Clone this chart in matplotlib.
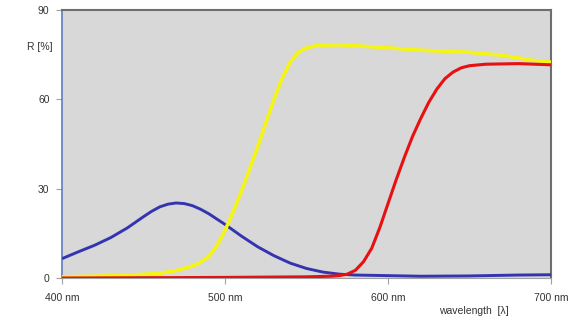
import matplotlib
matplotlib.use("Agg")
import matplotlib.pyplot as plt

plt.rcParams['font.family'] = ['Liberation Sans', 'DejaVu Sans']

# Reflectance spectra (wavelength in nm, R in %)
wl_blue = [400, 410, 420, 430, 440, 450, 455, 460, 465, 470, 475, 480, 485,
           490, 500, 510, 520, 530, 540, 550, 560, 570, 580, 600, 620, 650,
           680, 700]
r_blue = [6.5, 8.8, 11.0, 13.6, 16.8, 20.6, 22.4, 23.9, 24.8, 25.2, 25.0, 24.3,
          23.1, 21.6, 18.0, 14.1, 10.5, 7.5, 5.0, 3.2, 2.0, 1.3, 1.0, 0.8,
          0.6, 0.7, 1.0, 1.1]

wl_yellow = [400, 420, 440, 460, 470, 480, 485, 490, 495, 500, 505, 510, 515,
             520, 525, 530, 535, 540, 545, 550, 555, 560, 570, 580, 600, 620,
             650, 670, 690, 700]
r_yellow = [0.4, 0.6, 0.9, 1.6, 2.5, 4.0, 5.3, 7.2, 10.8, 16.0, 22.2, 29.0,
            36.5, 44.0, 52.0, 60.0, 67.0, 72.5, 75.8, 77.3, 77.9, 78.2, 78.3,
            78.0, 77.3, 76.5, 75.8, 74.8, 73.0, 72.5]

wl_red = [400, 450, 500, 550, 565, 570, 575, 580, 585, 590, 595, 600, 605,
          610, 615, 620, 625, 630, 635, 640, 645, 650, 660, 680, 700]
r_red = [0.0, 0.1, 0.2, 0.4, 0.6, 0.8, 1.3, 2.6, 5.5, 10.0, 17.0, 25.0, 33.0,
         40.5, 47.5, 53.5, 59.0, 63.5, 67.0, 69.2, 70.6, 71.3, 71.8, 72.0, 71.6]

x_ticks = [400, 500, 600, 700]
x_tick_labels = ["400 nm", "500 nm", "600 nm", "700 nm"]
y_ticks = [0, 30, 60, 90]

fig = plt.figure(figsize=(5.79, 3.22), dpi=100)
fig.patch.set_facecolor('white')
ax = fig.add_axes([0.1071, 0.1366, 0.8446, 0.8323])
ax.set_facecolor('#d8d8d8')

line_kw = dict(solid_capstyle='butt', solid_joinstyle='round')
ax.plot(wl_blue, r_blue, color='#3434b0', lw=2.1, zorder=3, **line_kw)
ax.plot(wl_yellow, r_yellow, color='#f4f418', lw=2.6, zorder=4, **line_kw)
ax.plot(wl_red, r_red, color='#e81010', lw=2.2, zorder=5, **line_kw)

ax.set_xlim(400, 700)
ax.set_ylim(0, 90)
ax.set_xticks(x_ticks)
ax.set_xticklabels(x_tick_labels)
ax.set_yticks(y_ticks)

ax.tick_params(axis='both', direction='out', length=4, width=0.8,
               colors='#a0a0a0', labelsize=7.5, labelcolor='#333333')
ax.tick_params(axis='x', pad=7)
ax.tick_params(axis='y', pad=5)

ax.spines['left'].set_color('#5b7fc0')
ax.spines['left'].set_linewidth(1.2)
ax.spines['top'].set_color('#6e6e6e')
ax.spines['top'].set_linewidth(1.5)
ax.spines['right'].set_color('#6e6e6e')
ax.spines['right'].set_linewidth(1.5)
ax.spines['bottom'].set_color('#a0a0a0')
ax.spines['bottom'].set_linewidth(0.8)

fig.text(40 / 579, 1 - 47 / 322, "R [%]", fontsize=7.5, color='#333333',
         ha='center', va='center')
fig.text(474 / 579, 1 - 311 / 322, "wavelength  [λ]", fontsize=7.5,
         color='#333333', ha='center', va='center')

fig.savefig("out.png", dpi=100)
